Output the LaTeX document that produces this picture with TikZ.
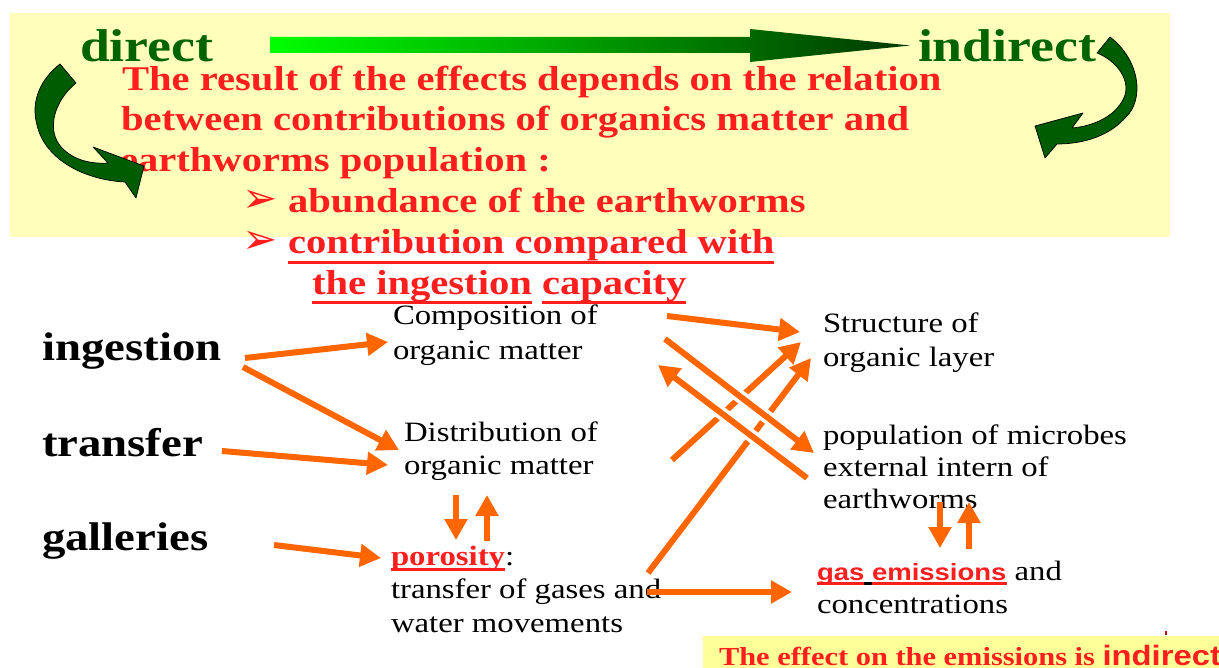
\documentclass[tikz,border=0pt]{standalone}
\usepackage{fontspec}
\setmainfont[FakeStretch=1.17]{Liberation Serif}
\setsansfont[FakeStretch=1.17]{Liberation Sans}
\newfontfamily\symfont{DejaVu Sans}
\usetikzlibrary{arrows.meta}
\definecolor{myred}{RGB}{255,30,30}
\definecolor{myorange}{RGB}{255,102,0}
\definecolor{dgreen}{RGB}{0,100,0}
\definecolor{agreen}{RGB}{0,92,0}
\definecolor{lyellow}{RGB}{255,255,187}
\definecolor{byellow}{RGB}{255,255,153}
\definecolor{gbright}{RGB}{0,255,0}
\definecolor{gmid}{RGB}{0,190,0}
\definecolor{gdark}{RGB}{0,55,0}
\newcommand{\myul}[3]{\setbox0=\hbox{#3}\rlap{\rule[#1]{\wd0}{#2}}\box0\relax}
\begin{document}
\begin{tikzpicture}[x=1pt,y=-1pt,
  txt/.style={anchor=base west, inner sep=0pt, outer sep=0pt},
  body/.style={txt, font=\fontsize{28}{28}\selectfont},
  lbl/.style={txt, font=\fontsize{40}{40}\selectfont\bfseries},
  redtxt/.style={txt, text=myred, font=\fontsize{34.7}{34.7}\selectfont\bfseries},
  grntxt/.style={txt, text=dgreen, font=\fontsize{46}{46}\selectfont\bfseries},
  bullet/.style={txt, text=myred, font=\fontsize{42}{42}\symfont},
  ora/.style={draw=myorange, line width=6pt, -{Triangle[length=21pt,width=22pt]}},
  cross/.style={ora, preaction={draw=white, line width=13pt, -, shorten >=22pt}},
  curved/.style={fill=agreen, draw=black, line width=0.7pt, line join=round}
]
\useasboundingbox (0,0) rectangle (1219,668);
\fill[white] (0,0) rectangle (1219,668);
% top box
\fill[lyellow] (10,13) rectangle (1170,237);
\shade[left color=gbright, middle color=gmid, right color=gdark]
  (270,37) -- (750,37) -- (750,29) -- (910,45.5) -- (750,62) -- (750,53) -- (270,53) -- cycle;
\node[grntxt] (direct) at (80,62) {direct};
\node[grntxt] (indirect) at (918,62) {indirect};
\node[redtxt] (r1) at (122,91) {The result of the effects depends on the relation};
\node[redtxt] (r2) at (121,131) {between contributions of organics matter and};
\node[redtxt] (r3) at (120,172) {earthworms population :};
\node[bullet] (bul1) at (242,213) {➢};
\node[bullet] (bul2) at (242,254) {➢};
\node[redtxt] (b1) at (288,213) {abundance of the earthworms};
\node[redtxt] (b2) at (288,254) {\myul{-10pt}{3pt}{contribution compared with}};
\node[redtxt] (b3) at (312,295) {\myul{-9.5pt}{3pt}{the ingestion} \myul{-9.5pt}{3pt}{capacity}};
% curved arrows
\filldraw[curved] (60,64) -- (76,83) .. controls (55,100) and (45,130) .. (62,148)
  .. controls (75,161) and (92,164) .. (108,163) -- (93,147) -- (144,166) -- (136,198)
  -- (125,182) .. controls (85,180) and (45,160) .. (37,125)
  .. controls (30,100) and (42,78) .. (60,64) -- cycle;
\filldraw[curved] (1097,53) -- (1110,37) .. controls (1140,60) and (1145,100) .. (1125,118)
  .. controls (1110,135) and (1085,144) .. (1057,144) -- (1045,158) -- (1035,126)
  -- (1083,113) -- (1072,128) .. controls (1095,126) and (1118,115) .. (1125,95)
  .. controls (1130,78) and (1115,60) .. (1097,53) -- cycle;
% left labels
\node[lbl] (ing) at (42,361) {ingestion};
\node[lbl] (tra) at (42,456) {transfer};
\node[lbl] (gal) at (42,550) {galleries};
% middle blocks
\node[body] (comp1) at (393,325) {Composition of};
\node[body] (comp2) at (393,360) {organic matter};
\node[body] (dist1) at (404,441) {Distribution of};
\node[body] (dist2) at (404,474) {organic matter};
\node[body] (por1) at (391,565) {\textcolor{myred}{\bfseries\myul{-5.5pt}{2.5pt}{porosity}}:};
\node[body] (por2) at (391,598) {transfer of gases and};
\node[body] (por3) at (391,632) {water movements};
% right blocks
\node[body] (str1) at (823,333) {Structure of};
\node[body] (str2) at (823,367) {organic layer};
\node[body] (pop1) at (823,445) {population of microbes};
\node[body] (pop2) at (823,476) {external intern of};
\node[body] (pop3) at (823,508) {earthworms};
\node[body] (gas1) at (817,580) {{\sffamily\bfseries\fontsize{23.5}{23.5}\selectfont\color{myred}\myul{-4.5pt}{2.5pt}{gas}\textcolor{black}{\myul{-4.5pt}{2.5pt}{\ }}\myul{-4.5pt}{2.5pt}{emissions}} and};
\node[body] (gas2) at (817,613) {concentrations};
% bottom box
\fill[byellow] (703,636) rectangle (1219,668);
\fill[myred!70!black] (1165,631) rectangle (1167,635);
\node[txt, text=myred, font=\fontsize{26}{26}\selectfont\bfseries] (eff) at (719,665) {The effect on the emissions is {\sffamily\fontsize{28}{28}\selectfont indirect}};
% connector end points
\coordinate (a1s) at (245,358);  \coordinate (a1e) at (388,342);
\coordinate (a2s) at (243,367);  \coordinate (a2e) at (399,450);
\coordinate (a3s) at (222,451);  \coordinate (a3e) at (388,465);
\coordinate (a4s) at (274,545);  \coordinate (a4e) at (381,558);
\coordinate (a5s) at (456,495);  \coordinate (a5e) at (456,540);
\coordinate (a6s) at (487,541);  \coordinate (a6e) at (487,495);
\coordinate (a7s) at (667,316);  \coordinate (a7e) at (800,332);
\coordinate (a8s) at (665,339);  \coordinate (a8e) at (814,453);
\coordinate (a9s) at (807,478);  \coordinate (a9e) at (658,365);
\coordinate (a10s) at (672,460); \coordinate (a10e) at (801,342);
\coordinate (a11s) at (648,573); \coordinate (a11e) at (811,358);
\coordinate (a12s) at (647,592); \coordinate (a12e) at (792,592);
\coordinate (a13s) at (940,502); \coordinate (a13e) at (940,548);
\coordinate (a14s) at (969,549); \coordinate (a14e) at (969,502);
% connectors
\draw[ora] (a1s) -- (a1e);
\draw[ora] (a2s) -- (a2e);
\draw[ora] (a3s) -- (a3e);
\draw[ora] (a4s) -- (a4e);
\draw[ora] (a5s) -- (a5e);
\draw[ora] (a6s) -- (a6e);
\draw[ora] (a7s) -- (a7e);
\draw[ora] (a10s) -- (a10e);
\draw[ora] (a11s) -- (a11e);
\draw[cross] (a8s) -- (a8e);
\draw[cross] (a9s) -- (a9e);
\draw[ora] (a12s) -- (a12e);
\draw[ora] (a13s) -- (a13e);
\draw[ora] (a14s) -- (a14e);
\end{tikzpicture}
\end{document}
